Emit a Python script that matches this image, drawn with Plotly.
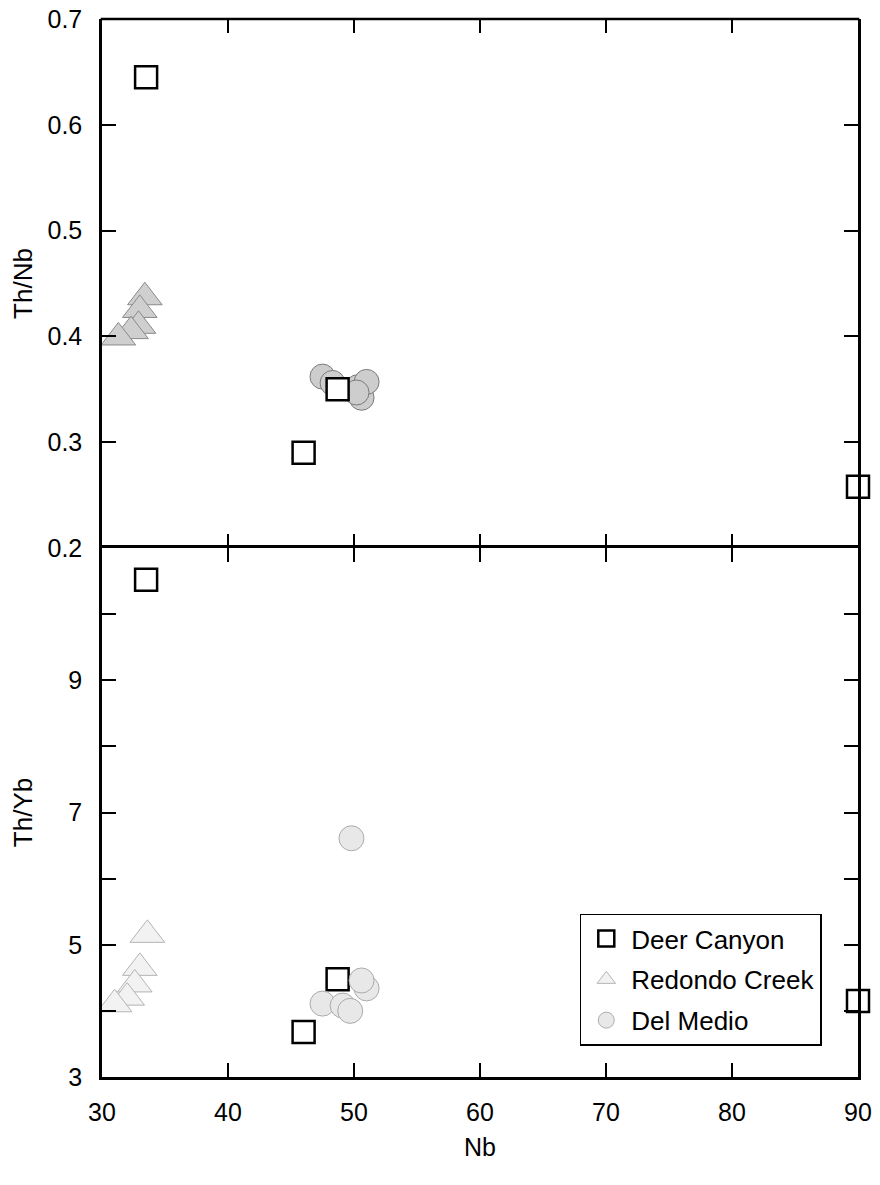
import plotly.graph_objects as go
from plotly.subplots import make_subplots

# Deer Canyon
dc_nb = [33.5, 48.7, 46.0, 90.0]
dc_thnb = [0.645, 0.350, 0.290, 0.258]
dc_thyb = [10.52, 4.48, 3.68, 4.15]

# Redondo Creek
rc_nb_top = [33.4, 33.0, 32.9, 32.3, 31.3]
rc_thnb = [0.437, 0.425, 0.410, 0.405, 0.399]
rc_nb_bot = [33.6, 33.0, 32.6, 32.0, 31.0]
rc_thyb = [5.15, 4.65, 4.40, 4.20, 4.10]

# Del Medio
dm_nb_top = [47.5, 48.3, 50.3, 50.6, 51.0, 50.2]
dm_thnb = [0.362, 0.356, 0.352, 0.342, 0.357, 0.347]
dm_nb_bot = [47.5, 49.1, 51.0, 50.6, 49.7, 49.8]
dm_thyb = [4.11, 4.08, 4.34, 4.46, 4.00, 6.61]

x_ticks = [30, 40, 50, 60, 70, 80, 90]

FONT = "Liberation Sans, Arial, sans-serif"
NARROW = "Liberation Sans Narrow, Liberation Sans, Arial"

fig = make_subplots(rows=2, cols=1, shared_xaxes=True, vertical_spacing=0)

tri_top = dict(symbol="triangle-up", size=30, color="#cfcfcf", line=dict(color="#8a8a8a", width=1))
cir_top = dict(symbol="circle", size=25, color="#cdcdcd", line=dict(color="#7a7a7a", width=1))
tri_bot = dict(symbol="triangle-up", size=30, color="#f2f2f2", line=dict(color="#b4b4b4", width=1))
cir_bot = dict(symbol="circle", size=25, color="#e8e8e8", line=dict(color="#ababab", width=1))
sq = dict(symbol="square", size=22, color="white", line=dict(color="black", width=2.5))

# top panel
fig.add_trace(go.Scatter(x=rc_nb_top, y=rc_thnb, mode="markers", marker=tri_top, showlegend=False), row=1, col=1)
fig.add_trace(go.Scatter(x=dm_nb_top, y=dm_thnb, mode="markers", marker=cir_top, showlegend=False), row=1, col=1)
fig.add_trace(go.Scatter(x=dc_nb, y=dc_thnb, mode="markers", marker=sq, showlegend=False, cliponaxis=False), row=1, col=1)

# bottom panel
fig.add_trace(go.Scatter(x=dc_nb, y=dc_thyb, mode="markers", marker=sq, name="Deer Canyon",
                         legendgroup="a", legendrank=1, cliponaxis=False), row=2, col=1)
fig.add_trace(go.Scatter(x=rc_nb_bot, y=rc_thyb, mode="markers", marker=tri_bot, name="Redondo Creek",
                         legendgroup="b", legendrank=2), row=2, col=1)
fig.add_trace(go.Scatter(x=dm_nb_bot, y=dm_thyb, mode="markers", marker=cir_bot, name="Del Medio",
                         legendgroup="c", legendrank=3), row=2, col=1)

axis_common = dict(linecolor="black", linewidth=2.5, mirror="ticks",
                   ticks="inside", ticklen=14, tickwidth=2, tickcolor="black",
                   showgrid=False, zeroline=False, automargin=False,
                   ticklabeloverflow="allow",
                   tickfont=dict(family=FONT, size=25, color="black"))

fig.update_xaxes(range=[30, 90], tickvals=x_ticks, **axis_common)
fig.update_xaxes(showticklabels=False, showline=False, row=1, col=1)
fig.update_xaxes(showline=True, ticklabelstandoff=11,
                 title=dict(text="Nb", font=dict(family=FONT, size=25, color="black"), standoff=14),
                 row=2, col=1)

fig.update_yaxes(range=[0.2, 0.7], tickvals=[0.2, 0.3, 0.4, 0.5, 0.6, 0.7],
                 ticktext=["0.2", "0.3", "0.4", "0.5", "0.6", "0.7"],
                 showline=True, ticklabelstandoff=12,
                 title=dict(text="Th/Nb", font=dict(family=NARROW, size=26, color="black"), standoff=8),
                 row=1, col=1, **axis_common)
fig.update_yaxes(range=[3, 11], tickvals=[3, 5, 7, 9], showline=True, ticklabelstandoff=12,
                 minor=dict(tickvals=[4, 6, 8, 10], ticks="inside", ticklen=14, tickwidth=2, tickcolor="black"),
                 title=dict(text="Th/Yb", font=dict(family=NARROW, size=26, color="black"), standoff=44),
                 row=2, col=1, **axis_common)

# top border of the upper panel (its x axis line is hidden so the middle divider is not doubled)
fig.add_shape(type="line", xref="x domain", yref="y domain", x0=-0.0017, x1=1.0017, y0=1, y1=1,
              line=dict(color="black", width=2.5))

fig.update_layout(
    width=872, height=1177,
    margin=dict(l=94, r=22, t=11, b=108),
    plot_bgcolor="white", paper_bgcolor="white",
    font=dict(family=FONT, size=24, color="black"),
    legend=dict(x=0.632, y=0.1544, xanchor="left", yanchor="top",
                bordercolor="black", borderwidth=1.5, bgcolor="white",
                traceorder="grouped", tracegroupgap=4, itemwidth=40,
                font=dict(family=FONT, size=26, color="black"),
                itemsizing="trace"),
)

fig.write_html("out.html")
